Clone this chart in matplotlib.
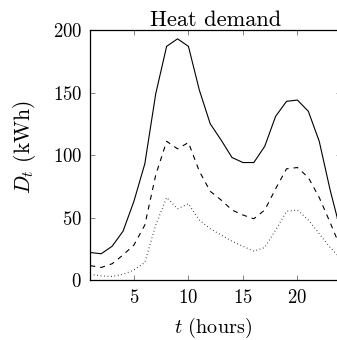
import matplotlib
matplotlib.use('Agg')
import matplotlib.pyplot as plt

plt.rcParams['font.family'] = 'serif'
plt.rcParams['font.serif'] = ['cmr10']
plt.rcParams['mathtext.fontset'] = 'cm'
plt.rcParams['axes.formatter.use_mathtext'] = True
plt.rcParams['font.size'] = 13.5
plt.rcParams['lines.scale_dashes'] = False

hours = list(range(1, 25))
demand_high = [22, 21, 27, 39, 63, 93, 149, 187, 193, 187, 152, 125,
               112, 98, 94, 94, 107, 131, 143, 144, 135, 111, 72, 38]
demand_mid = [11.5, 10, 13, 20, 28, 44, 84, 111, 105, 110, 87, 71,
              64, 56, 52, 49, 56, 73, 89, 90, 82, 66, 46, 25]
demand_low = [4.5, 3.3, 2.8, 4.5, 8, 14, 44, 66, 57, 61, 48, 41,
              36, 31, 27, 23, 26, 40, 55, 56, 48, 37, 26, 17]
xticks = [5, 10, 15, 20]
yticks = [0, 50, 100, 150, 200]

fig = plt.figure(figsize=(3.37, 3.40), dpi=100)
ax = fig.add_axes([0.268, 0.1765, 0.744, 0.735])

ax.plot(hours, demand_high, color='black', lw=0.8)
ax.plot(hours, demand_mid, color='black', lw=0.8, dashes=(3.6, 3.6))
ax.plot(hours, demand_low, color='black', lw=0.8, dashes=(0.5, 2.0))

ax.set_xlim(1, 24)
ax.set_ylim(0, 200)
ax.set_xticks(xticks)
ax.set_yticks(yticks)
ax.tick_params(direction='in', top=True, right=True, length=3.5,
               width=0.6, color='0.45')
ax.tick_params(axis='x', pad=6.5)
ax.tick_params(axis='y', pad=6)
for s in ax.spines.values():
    s.set_linewidth(0.9)

ax.set_title('Heat demand', pad=3)
ax.set_xlabel('$t$ (hours)', fontsize=14.5)
ax.set_ylabel('$D_t$ (kWh)', fontsize=15.5)
ax.xaxis.set_label_coords(0.49, -0.142)
ax.yaxis.set_label_coords(-0.208, 0.53)

fig.savefig('out.png', dpi=100)
